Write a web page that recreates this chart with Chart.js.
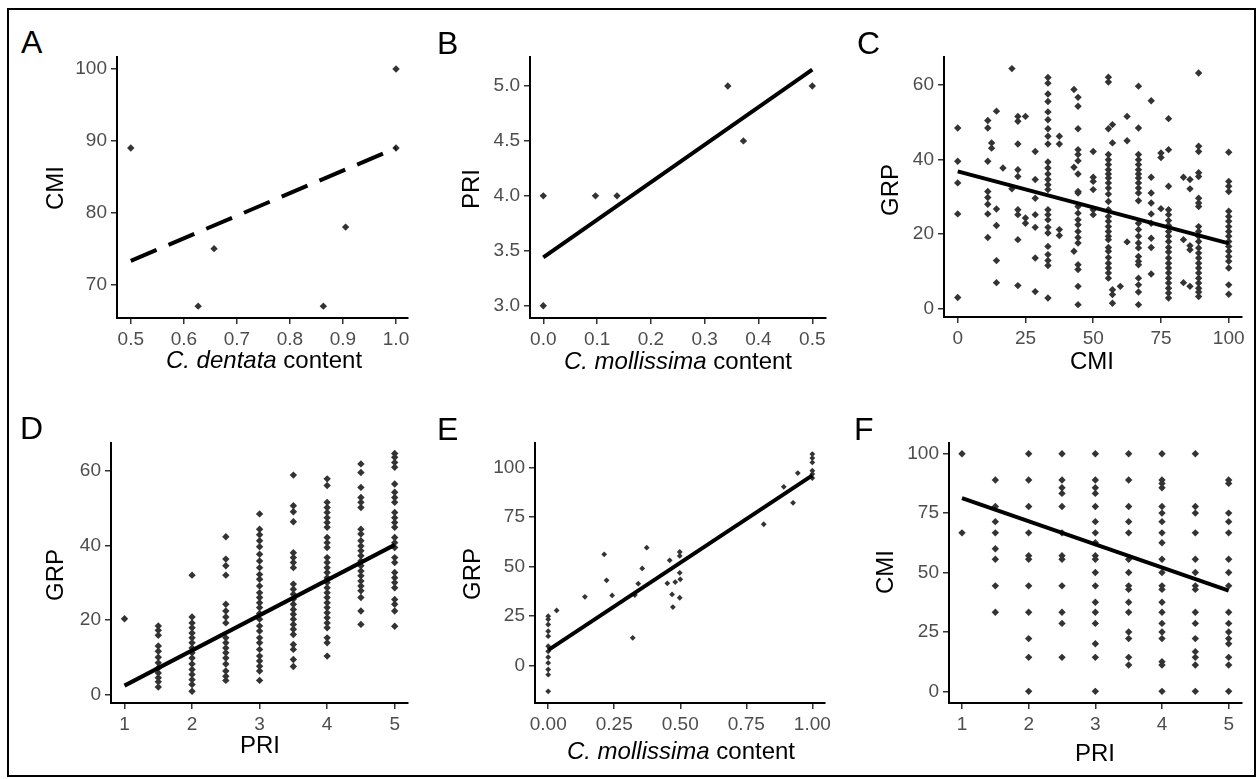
<!DOCTYPE html>
<html>
<head>
<meta charset="utf-8">
<script src="https://cdn.jsdelivr.net/npm/chart.js@4.4.1/dist/chart.umd.min.js"></script>
<style>
body { margin: 0; background: #fff; font-family: Arial, "Liberation Sans", sans-serif; }
#fig { position: relative; width: 1257px; height: 779px; overflow: hidden; background: #fff; }
#frame { position: absolute; left: 7px; top: 8px; width: 1249px; height: 769px; border: 2px solid #000; box-sizing: border-box; }
canvas { position: absolute; }
.tag { position: absolute; font-size: 32px; line-height: 1; color: #000; }
.xt { position: absolute; font-size: 24px; line-height: 1; color: #000; transform: translateX(-50%); white-space: nowrap; }
.yt { position: absolute; font-size: 24px; line-height: 1; color: #000; transform: translate(-50%, -50%) rotate(-90deg); white-space: nowrap; }
</style>
</head>
<body>
<div id="fig">
  <div id="frame"></div>
  <canvas id="chartA"></canvas>
  <canvas id="chartB"></canvas>
  <canvas id="chartC"></canvas>
  <canvas id="chartD"></canvas>
  <canvas id="chartE"></canvas>
  <canvas id="chartF"></canvas>

  <div class="tag" style="left:21px;top:26px;">A</div>
  <div class="tag" style="left:437px;top:27px;">B</div>
  <div class="tag" style="left:857px;top:27px;">C</div>
  <div class="tag" style="left:20px;top:412px;">D</div>
  <div class="tag" style="left:437px;top:413px;">E</div>
  <div class="tag" style="left:854px;top:413px;">F</div>

  <div class="yt" style="left:55px;top:188px;">CMI</div>
  <div class="xt" style="left:264px;top:348px;"><i>C. dentata</i> content</div>
  <div class="yt" style="left:471px;top:189px;">PRI</div>
  <div class="xt" style="left:678px;top:349px;"><i>C. mollissima</i> content</div>
  <div class="yt" style="left:890px;top:190px;">GRP</div>
  <div class="xt" style="left:1092px;top:349px;">CMI</div>
  <div class="yt" style="left:55px;top:575px;">GRP</div>
  <div class="xt" style="left:260px;top:733px;">PRI</div>
  <div class="yt" style="left:472px;top:574px;">GRP</div>
  <div class="xt" style="left:681px;top:739px;"><i>C. mollissima</i> content</div>
  <div class="yt" style="left:885px;top:572px;">CMI</div>
  <div class="xt" style="left:1095px;top:741px;">PRI</div>
</div>

<script>
// Panel A: CMI vs C. dentata content
const aX = [0.5, 0.627, 0.657, 0.863, 0.905, 1.0, 1.0];
const aY = [89, 67, 75, 67, 78, 100, 89];
const aFitX = [0.5, 1.0];
const aFitY = [73.3, 89.0];
const aTicksX = ['0.5', '0.6', '0.7', '0.8', '0.9', '1.0'];
const aTicksY = ['70', '80', '90', '100'];

// Panel B: PRI vs C. mollissima content
const bX = [0, 0, 0.097, 0.137, 0.343, 0.372, 0.5];
const bY = [4, 3, 4, 4, 5, 4.5, 5];
const bFitX = [0, 0.5];
const bFitY = [3.44, 5.15];
const bTicksX = ['0.0', '0.1', '0.2', '0.3', '0.4', '0.5'];
const bTicksY = ['3.0', '3.5', '4.0', '4.5', '5.0'];

// Panel C: GRP vs CMI (one list of GRP values per CMI value)
const cCmi = [0, 11.1, 12.5, 14.3, 16.7, 20, 22.2, 25, 28.6, 33.3, 37.5, 42.9, 44.4, 50, 55.6, 57.1, 60, 62.5, 66.7, 71.4, 75, 77.8, 83.3, 85.7, 88.9, 100];
const cGrp = [
  [48.4, 39.5, 33.7, 25.4, 3.0],
  [50.4, 48.4, 39.5, 31.4, 29.8, 28.0, 25.4, 19.1],
  [44.4, 43.0],
  [52.9, 26.7, 22.3, 12.9, 7.0],
  [37.7],
  [64.3, 32.1],
  [51.5, 50.2, 44.1, 37.2, 35.4, 26.5, 25.2, 18.5, 6.2],
  [51.5, 24.3, 22.9],
  [42.1, 34.6, 29.6, 25.2, 21.8, 13.6, 4.6],
  [61.9, 60.4, 57.5, 55.5, 52.7, 50.6, 48.2, 46.2, 44.1, 39.3, 37.7, 36.1, 34.6, 33.2, 31.9, 26.5, 25.2, 23.8, 21.8, 20.3, 16.7, 14.5, 12.9, 11.6, 2.9],
  [46.2, 44.1, 21.2, 19.6],
  [58.7, 37.9, 15.4],
  [56.6, 54.2, 48.2, 42.6, 41.3, 39.6, 36.1, 31.4, 31.0, 27.4, 25.6, 23.8, 22.5, 20.7, 19.1, 17.6, 11.8, 10.5, 6.0, 1.1],
  [42.1, 35.2, 34.1, 31.9, 26.5, 25.2],
  [62.0, 60.7, 48.2, 41.3, 39.9, 38.6, 37.2, 36.1, 35.0, 33.7, 32.3, 30.7, 28.7, 26.5, 24.7, 23.4, 22.0, 20.7, 19.4, 18.5, 16.4, 15.4, 13.7, 12.2, 10.9, 9.6, 8.2],
  [49.3, 44.4, 5.1, 3.8, 1.5],
  [6.0],
  [51.5, 45.0, 17.9],
  [59.6, 48.4, 41.3, 39.9, 38.6, 37.2, 36.1, 35.0, 33.7, 32.3, 31.0, 28.9, 22.9, 21.2, 19.4, 17.6, 16.3, 14.0, 12.7, 11.8, 8.2, 6.4, 4.5, 1.1],
  [55.7, 35.2, 31.0, 28.3, 25.4, 22.9, 18.9, 16.4, 9.3],
  [41.7, 40.5, 26.8],
  [50.9, 42.6, 32.8, 26.5, 25.2, 23.6, 22.3, 20.7, 19.4, 18.0, 16.4, 15.2, 13.6, 12.2, 10.9, 9.6, 8.2, 6.9, 5.5, 4.2, 2.9],
  [35.2, 18.5, 7.0],
  [34.6, 32.1, 16.9, 15.8, 6.0],
  [63.1, 43.5, 42.1, 36.4, 35.4, 29.6, 28.3, 27.4, 22.0, 20.7, 19.4, 18.0, 16.3, 14.9, 13.6, 12.2, 10.9, 9.6, 8.2, 6.9, 5.5, 4.5, 3.3],
  [41.9, 34.1, 32.8, 31.4, 26.1, 24.7, 23.4, 22.0, 20.7, 19.4, 18.0, 16.7, 15.4, 14.0, 12.7, 10.9, 6.4, 3.9]
];
const cFitX = [0, 100];
const cFitY = [36.8, 17.5];
const cTicksX = ['0', '25', '50', '75', '100'];
const cTicksY = ['0', '20', '40', '60'];

// Panel D: GRP vs PRI (one list of GRP values per PRI value)
const dPri = [1, 1.5, 2, 2.5, 3, 3.5, 4, 4.5, 5];
const dGrp = [
  [20.3],
  [18.4, 17.2, 15.9, 13.0, 11.6, 10.0, 8.5, 7.1, 5.8, 4.5, 3.4, 2.0],
  [32.0, 20.8, 19.2, 17.9, 16.5, 15.2, 13.9, 12.5, 11.2, 9.8, 8.2, 6.7, 5.4, 4.0, 2.7, 0.9],
  [42.3, 36.3, 34.5, 32.0, 24.2, 22.4, 20.8, 19.2, 15.2, 13.9, 12.5, 11.2, 9.8, 8.2, 6.3, 4.9, 3.8],
  [48.4, 44.3, 42.8, 41.2, 39.6, 37.6, 35.8, 34.0, 32.2, 30.9, 29.1, 27.3, 26.0, 24.6, 23.3, 21.7, 20.2, 18.4, 17.0, 15.2, 13.9, 12.1, 10.3, 9.0, 7.6, 6.3, 3.8],
  [58.8, 50.6, 49.0, 46.3, 38.0, 36.7, 35.4, 34.0, 29.6, 28.2, 26.9, 25.6, 24.2, 22.8, 21.5, 20.2, 18.8, 17.5, 16.1, 13.4, 12.1, 9.4, 7.5],
  [57.8, 56.0, 51.5, 50.1, 48.8, 47.4, 46.1, 44.8, 42.1, 40.7, 39.4, 36.7, 35.4, 34.0, 32.7, 31.3, 30.0, 28.6, 27.3, 26.0, 24.6, 23.3, 21.9, 20.6, 19.2, 17.9, 15.2, 13.9, 10.3],
  [61.8, 59.5, 55.5, 52.8, 51.5, 50.1, 44.3, 43.0, 41.2, 39.8, 38.5, 37.2, 35.8, 34.5, 33.1, 31.8, 30.4, 29.1, 27.8, 26.0, 22.4, 18.8],
  [64.6, 63.6, 62.2, 60.9, 56.4, 54.2, 52.8, 51.5, 48.8, 47.4, 46.1, 44.8, 42.1, 40.7, 39.4, 36.7, 35.4, 32.7, 31.3, 30.0, 28.6, 25.5, 24.2, 22.4, 18.3]
];
const dFitX = [1, 5];
const dFitY = [2.4, 40.1];
const dTicksX = ['1', '2', '3', '4', '5'];
const dTicksY = ['0', '20', '40', '60'];

// Panel E: GRP vs C. mollissima content
const eX = [0, 0, 0, 0, 0, 0, 0, 0, 0, 0, 0, 0, 0.032, 0.139, 0.212, 0.221, 0.242, 0.32, 0.328, 0.341, 0.356, 0.373,
            0.451, 0.46, 0.469, 0.472, 0.481, 0.498, 0.498, 0.498, 0.5, 0.498, 0.816, 0.892, 0.927, 0.945, 1, 1, 1, 1, 1, 1];
const eY = [24.9, 23.3, 20.7, 17.3, 14.8, 9.8, 7.2, 4.2, 1.3, -2.0, -4.6, -13.0, 27.8, 34.7, 56.1, 43.0, 35.4, 14.0, 35.6, 41.3, 49.0, 59.5,
            41.5, 53.1, 35.9, 29.5, 42.1, 57.3, 55.3, 46.8, 43.5, 34.2, 71.3, 90.2, 82.1, 97.1, 106.7, 104.7, 102.5, 98.3, 96.6, 94.6];
const eFitX = [0, 1];
const eFitY = [7.8, 96.0];
const eTicksX = ['0.00', '0.25', '0.50', '0.75', '1.00'];
const eTicksY = ['0', '25', '50', '75', '100'];

// Panel F: CMI vs PRI (one list of CMI values per PRI value)
const fPri = [1, 1.5, 2, 2.5, 3, 3.5, 4, 4.5, 5];
const fCmi = [
  [100, 66.7],
  [88.9, 77.8, 71.4, 66.7, 60, 55.6, 44.4, 33.3],
  [100, 88.9, 77.8, 66.7, 57.1, 55.6, 44.4, 33.3, 22.2, 14.3, 0],
  [100, 88.9, 85.7, 83.3, 77.8, 66.7, 57.1, 55.6, 44.4, 33.3, 28.6, 14.3],
  [100, 88.9, 85.7, 83.3, 77.8, 71.4, 66.7, 62.5, 57.1, 55.6, 50, 44.4, 37.5, 33.3, 28.6, 20, 14.3, 0],
  [100, 88.9, 77.8, 71.4, 66.7, 55.6, 50, 44.4, 42.9, 37.5, 33.3, 25, 22.2, 14.3, 11.1],
  [100, 88.9, 87.5, 85.7, 77.8, 75, 71.4, 66.7, 62.5, 55.6, 50, 44.4, 42.9, 37.5, 33.3, 28.6, 25, 22.2, 12.5, 11.1, 0],
  [100, 77.8, 75, 66.7, 55.6, 50, 44.4, 42.9, 33.3, 28.6, 22.2, 16.7, 14.3, 11.1, 0],
  [88.9, 87.5, 75, 71.4, 66.7, 55.6, 50, 44.4, 33.3, 28.6, 25, 22.2, 20, 14.3, 11.1, 0]
];
const fFitX = [1, 5];
const fFitY = [81.3, 42.4];
const fTicksX = ['1', '2', '3', '4', '5'];
const fTicksY = ['0', '25', '50', '75', '100'];

const FONT = 'Arial, "Liberation Sans", sans-serif';
const PAD_L = 70, PAD_T = 20, PAD_R = 30, PAD_B = 50;

function pairs(xs, ys) {
    return xs.map((x, i) => ({ x: x, y: ys[i] }));
}

// flatten column lists into x/y points
function columns(xs, lists) {
    const pts = [];
    xs.forEach((x, i) => lists[i].forEach(y => pts.push({ x: x, y: y })));
    return pts;
}

function axis(min, max, labels, pad) {
    return {
        type: 'linear',
        min: min,
        max: max,
        afterBuildTicks: s => { s.ticks = labels.map(l => ({ value: Number(l) })); },
        afterFit: s => { if (s.isHorizontal()) s.height = PAD_B; else s.width = PAD_L; },
        ticks: {
            callback: (v, i) => labels[i],
            color: '#4d4d4d',
            font: { size: 19, family: FONT },
            padding: pad,
            autoSkip: false,
            maxRotation: 0
        },
        grid: { drawOnChartArea: false, drawTicks: true, tickLength: 6, color: '#333', lineWidth: 1.5 },
        border: { display: true, color: '#000', width: 2 }
    };
}

function drawPanel(id, area, xr, yr, xLabels, yLabels, points, fit, dashed, radius) {
    const cv = document.getElementById(id);
    const w = area.r - area.l + PAD_L + PAD_R;
    const h = area.b - area.t + PAD_T + PAD_B;
    cv.style.left = (area.l - PAD_L) + 'px';
    cv.style.top = (area.t - PAD_T) + 'px';
    cv.width = w; cv.height = h;
    cv.style.width = w + 'px'; cv.style.height = h + 'px';

    return new Chart(cv, {
        type: 'scatter',
        data: {
            datasets: [{
                data: fit,
                showLine: true,
                borderColor: '#000',
                borderWidth: 4,
                borderDash: dashed ? [28, 13] : [],
                pointRadius: 0
            }, {
                data: points,
                backgroundColor: '#333',
                borderWidth: 0,
                pointStyle: 'rectRot',
                pointRadius: radius
            }]
        },
        options: {
            responsive: false,
            animation: false,
            events: [],
            layout: { padding: { left: 0, top: PAD_T, right: PAD_R, bottom: 0 } },
            plugins: { legend: { display: false }, tooltip: { enabled: false } },
            scales: {
                x: axis(xr[0], xr[1], xLabels, 4),
                y: axis(yr[0], yr[1], yLabels, 4)
            }
        }
    });
}

drawPanel('chartA', { l: 117, t: 57, r: 408, b: 318 }, [0.474, 1.0226], [65.35, 101.67],
    aTicksX, aTicksY, pairs(aX, aY), pairs(aFitX, aFitY), true, 3.7);
drawPanel('chartB', { l: 530, t: 57, r: 826, b: 318 }, [-0.0247, 0.5255], [2.888, 5.264],
    bTicksX, bTicksY, pairs(bX, bY), pairs(bFitX, bFitY), false, 3.7);
drawPanel('chartC', { l: 944, t: 57, r: 1242, b: 317 }, [-5.06, 104.9], [-2.2, 67.4],
    cTicksX, cTicksY, columns(cCmi, cGrp), pairs(cFitX, cFitY), false, 3.7);
drawPanel('chartD', { l: 111, t: 443, r: 408, b: 703 }, [0.8, 5.197], [-2.26, 67.4],
    dTicksX, dTicksY, columns(dPri, dGrp), pairs(dFitX, dFitY), false, 3.7);
drawPanel('chartE', { l: 535, t: 443, r: 825, b: 703 }, [-0.05, 1.048], [-18.9, 112.3],
    eTicksX, eTicksY, pairs(eX, eY), pairs(eFitX, eFitY), false, 2.9);
drawPanel('chartF', { l: 949, t: 443, r: 1242, b: 703 }, [0.805, 5.2], [-4.9, 104.5],
    fTicksX, fTicksY, columns(fPri, fCmi), pairs(fFitX, fFitY), false, 3.7);
</script>
</body>
</html>
